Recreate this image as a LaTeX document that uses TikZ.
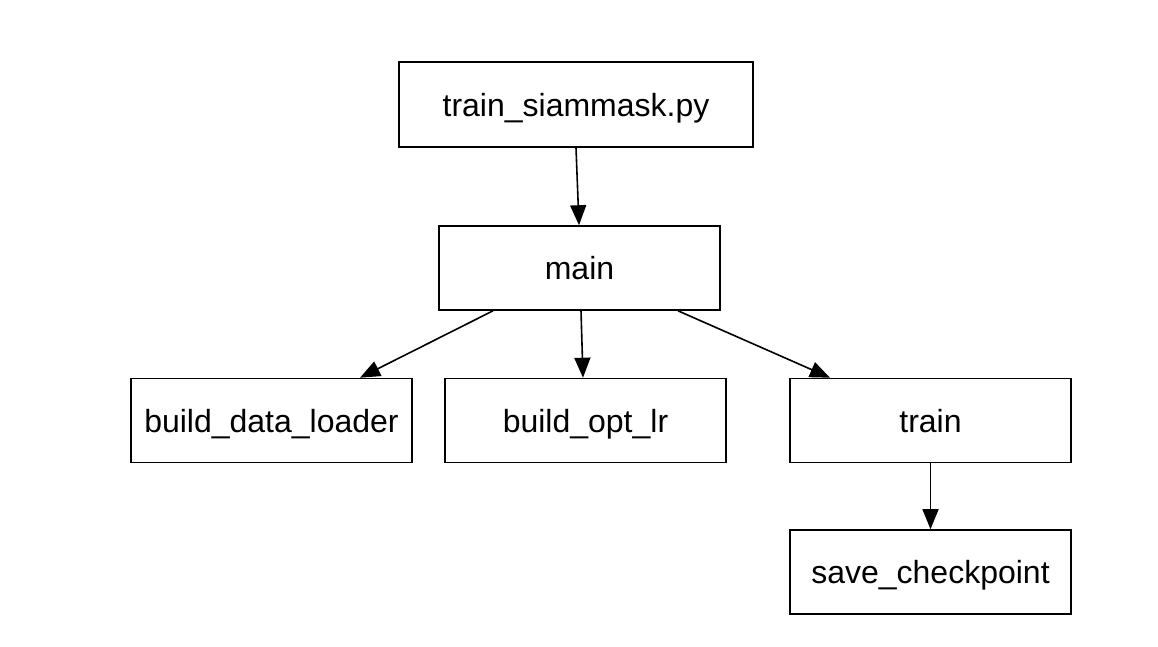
\documentclass[tikz,border=0pt]{standalone}
\usepackage{fontspec}
\setmainfont{Liberation Sans}
\usetikzlibrary{arrows.meta, positioning}
\tikzset{
  func/.style={
    rectangle,
    draw=black,
    line width=1.6pt,
    minimum width=281pt,
    minimum height=84pt,
    align=center,
    text height=29pt,
    text depth=6pt,
    font=\fontsize{32pt}{38pt}\selectfont,
  },
  call/.style={
    -{Triangle[length=20pt, width=16pt]},
    line width=1.6pt,
  }
}

\begin{document}
\begin{tikzpicture}[x=1pt, y=-1pt]
  \useasboundingbox (0,0) rectangle (1158,646);
  \node[func, minimum width=354pt, minimum height=85pt] (script) at (576,104.5) {train\_siammask.py};
  \node[func] (main) at (579.5,268) {main};
  \node[func] (loader) at (271.5,420.5) {build\_data\_loader};
  \node[func] (optlr) at (585.5,420.5) {build\_opt\_lr};
  \node[func] (train) at (930.5,420.5) {train};
  \node[func] (ckpt) at (930.5,572) {save\_checkpoint};
  % calls
  \draw[call] (script.south) -- ([xshift=-0.5pt]main.north);
  \draw[call] ([xshift=-86.5pt]main.south) -- ([xshift=88.5pt]loader.north);
  \draw[call] ([xshift=1.5pt]main.south) -- ([xshift=-2.5pt]optlr.north);
  \draw[call] ([xshift=98.5pt]main.south) -- ([xshift=-100.5pt]train.north);
  \draw[call] (train.south) -- (ckpt.north);
\end{tikzpicture}
\end{document}
